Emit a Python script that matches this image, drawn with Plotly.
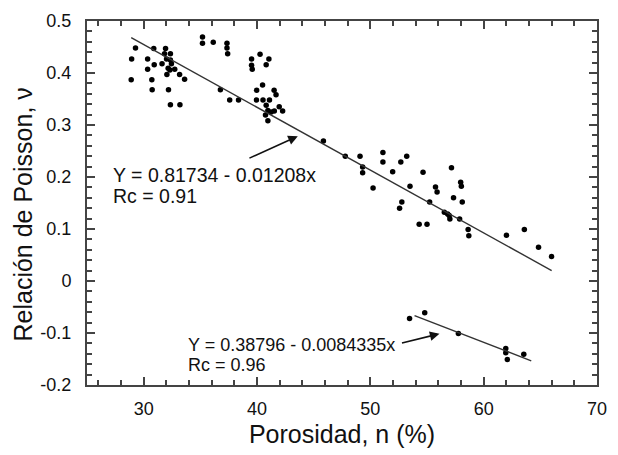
import plotly.graph_objects as go

# ---- data ----
# main group (upper cloud)
x_main = [29.28, 28.94, 28.90, 30.35, 30.35, 30.89, 30.93, 30.72, 30.75, 31.62,
          31.93, 31.84, 32.36, 32.02, 32.36, 32.45, 32.16, 32.31, 32.74, 32.05,
          32.19, 33.17, 33.61, 32.36, 33.20, 35.19, 35.19, 36.14, 37.35, 37.35,
          37.41, 36.77, 37.59, 38.37, 39.52, 39.52, 39.58, 40.27, 41.05, 40.81,
          39.97, 40.49, 41.51, 41.68, 39.95, 40.53, 41.10, 40.81, 40.96, 41.25,
          40.75, 40.96, 41.53, 41.96, 42.26, 45.86, 47.79, 49.09, 49.32, 49.32,
          51.11, 51.11, 50.24, 51.97, 52.69, 53.21, 53.50, 52.78, 52.58, 54.65,
          54.31, 55.00, 55.75, 55.89, 55.23, 57.16, 57.97, 58.03, 57.34, 58.11,
          56.53, 56.82, 56.96, 57.02, 57.88, 58.63, 58.69, 62.01, 63.59, 64.84,
          65.99]
y_main = [0.448, 0.427, 0.387, 0.427, 0.407, 0.447, 0.416, 0.387, 0.368, 0.418,
          0.447, 0.437, 0.437, 0.427, 0.425, 0.418, 0.409, 0.406, 0.407, 0.397,
          0.368, 0.397, 0.388, 0.339, 0.339, 0.469, 0.457, 0.459, 0.457, 0.448,
          0.437, 0.368, 0.348, 0.348, 0.427, 0.415, 0.407, 0.436, 0.427, 0.416,
          0.367, 0.377, 0.367, 0.358, 0.348, 0.348, 0.348, 0.338, 0.328, 0.325,
          0.319, 0.308, 0.327, 0.335, 0.327, 0.269, 0.240, 0.240, 0.219, 0.208,
          0.247, 0.229, 0.179, 0.210, 0.229, 0.240, 0.182, 0.152, 0.140, 0.209,
          0.109, 0.109, 0.181, 0.171, 0.152, 0.218, 0.190, 0.182, 0.160, 0.152,
          0.132, 0.129, 0.126, 0.119, 0.119, 0.099, 0.087, 0.088, 0.099, 0.065,
          0.047]

# lower group
x_low = [53.46, 54.80, 57.77, 61.95, 61.95, 62.09, 63.54]
y_low = [-0.072, -0.061, -0.101, -0.130, -0.138, -0.151, -0.141]

# regression lines: intercept, slope, x-range
fit1_a, fit1_b, fit1_x = 0.81734, -0.01208, [28.9, 66.0]
fit2_a, fit2_b, fit2_x = 0.38796, -0.0084335, [53.9, 64.2]

label1 = ["Y = 0.81734 - 0.01208x", "Rc = 0.91"]
label2 = ["Y = 0.38796 - 0.0084335x", "Rc = 0.96"]

x_ticks = [30, 40, 50, 60, 70]
y_ticks = [-0.2, -0.1, 0, 0.1, 0.2, 0.3, 0.4, 0.5]
y_ticktext = ["-0.2", "-0.1", "0", "0.1", "0.2", "0.3", "0.4", "0.5"]

FONT = "Liberation Sans, Arial, Helvetica, sans-serif"
INK = "#111111"
FRAME = "#444444"

fig = go.Figure()
fig.add_trace(go.Scatter(x=x_main, y=y_main, mode="markers",
                         marker=dict(color="black", size=5.5), showlegend=False))
fig.add_trace(go.Scatter(x=x_low, y=y_low, mode="markers",
                         marker=dict(color="black", size=5.5), showlegend=False))
fig.add_trace(go.Scatter(x=fit1_x, y=[fit1_a + fit1_b * v for v in fit1_x],
                         mode="lines", line=dict(color="#333333", width=1.4),
                         showlegend=False))
fig.add_trace(go.Scatter(x=fit2_x, y=[fit2_a + fit2_b * v for v in fit2_x],
                         mode="lines", line=dict(color="#333333", width=1.4),
                         showlegend=False))


def px_to_x(px):
    return 30.0 + (px - 145) / 11.56


def py_to_y(py):
    return (280.7 - py) / 535


annotations = [
    # arrows
    dict(x=43.6, y=0.2785, ax=39.2, ay=0.235, xref="x", yref="y",
         axref="x", ayref="y", showarrow=True, arrowhead=2, arrowsize=1.2,
         arrowwidth=1.6, arrowcolor=INK, text=""),
    dict(x=56.1, y=-0.1015, ax=52.66, ay=-0.120, xref="x", yref="y",
         axref="x", ayref="y", showarrow=True, arrowhead=2, arrowsize=1.2,
         arrowwidth=1.6, arrowcolor=INK, text=""),
    # y axis title
    dict(x=-0.125, y=0.469, xref="paper", yref="paper", xanchor="center",
         yanchor="middle", textangle=-90, showarrow=False,
         text="Relación de Poisson, ν", font=dict(family=FONT, size=25, color=INK)),
]
for i, line in enumerate(label1):
    annotations.append(dict(x=px_to_x(111.7), y=py_to_y(171.5 + 21.5 * i),
                            xref="x", yref="y", xanchor="left", yanchor="middle",
                            showarrow=False, text=line,
                            font=dict(family=FONT, size=19.5, color=INK)))
for i, line in enumerate(label2):
    annotations.append(dict(x=px_to_x(188.3), y=py_to_y(347 + 20 * i),
                            xref="x", yref="y", xanchor="left", yanchor="middle",
                            showarrow=False, text=line,
                            font=dict(family=FONT, size=18, color=INK)))

axis_common = dict(
    showline=True, linecolor=FRAME, linewidth=2, mirror="allticks",
    ticks="inside", ticklen=8, tickwidth=1.5, tickcolor=FRAME,
    showgrid=False, zeroline=False,
    tickfont=dict(family=FONT, size=18, color=INK),
)

fig.update_layout(
    width=618, height=455,
    margin=dict(l=87, r=11, t=13, b=67),
    paper_bgcolor="white", plot_bgcolor="white",
    font=dict(family=FONT, color=INK),
    xaxis=dict(range=[25, 70], tickvals=x_ticks, ticklabelstandoff=6,
               minor=dict(dtick=2, tick0=0, ticks="inside", ticklen=5,
                          tickwidth=1.5, tickcolor=FRAME),
               title=dict(text="Porosidad, n (%)", standoff=8,
                          font=dict(family=FONT, size=25, color=INK)),
               **axis_common),
    yaxis=dict(range=[-0.2, 0.5], tickvals=y_ticks, ticktext=y_ticktext,
               ticklabelstandoff=10,
               minor=dict(dtick=0.02, tick0=0, ticks="inside", ticklen=5,
                          tickwidth=1.5, tickcolor=FRAME),
               **axis_common),
    annotations=annotations,
)

fig.write_html("out.html")
